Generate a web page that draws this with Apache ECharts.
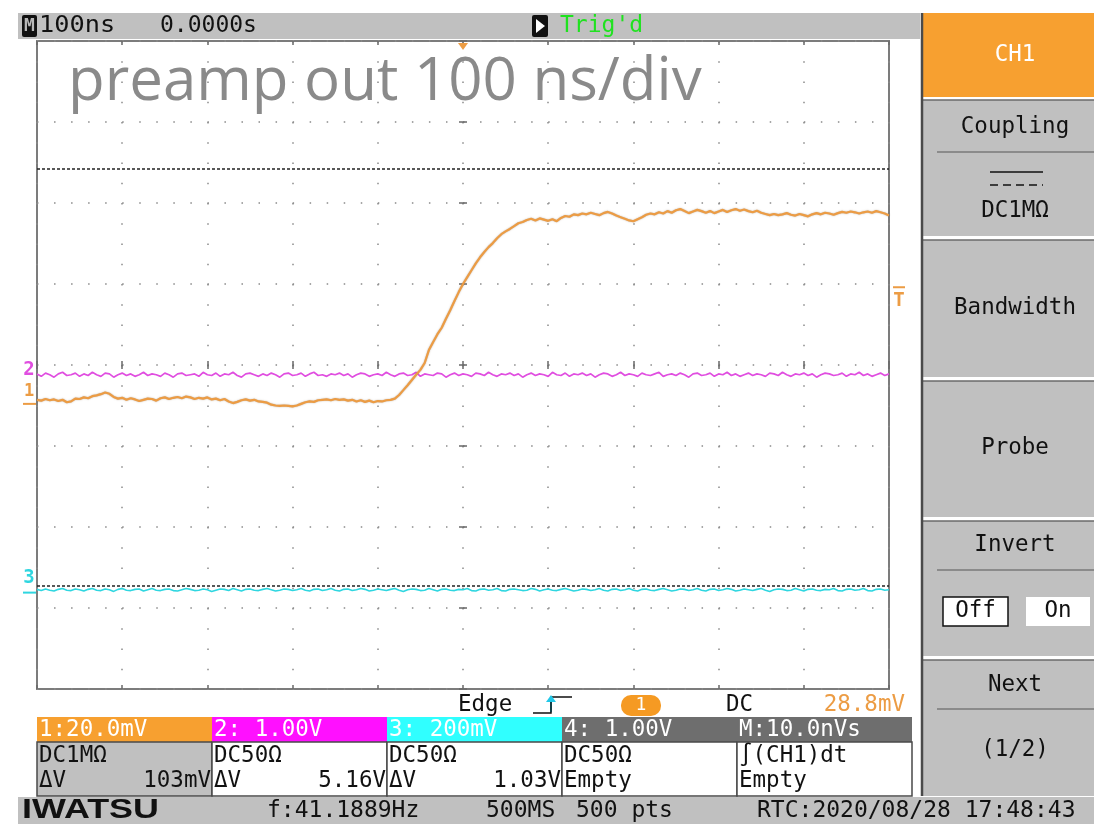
<!DOCTYPE html>
<html>
<head>
<meta charset="utf-8">
<script src="https://cdn.jsdelivr.net/npm/echarts@6/dist/echarts.min.js"></script>
<style>
  html, body { margin: 0; padding: 0; background: #ffffff; }
  #main { width: 1094px; height: 824px; }
</style>
</head>
<body>
<div id="main"></div>
<script>
// ---- acquisition record: 5 ns per sample, trigger at t = 0 ----
const timeStartNs = -500;
const timeStepNs = 5;

// CH1, preamp output (mV)
const ch1mV = [
  1.0, 0.8, 1.2, 0.9, 1.1, 0.7, 1.0, 0.4, 0.6, 1.3,
  1.2, 1.6, 1.4, 1.9, 2.1, 2.4, 2.8, 2.5, 1.7, 1.3,
  1.5, 1.0, 1.4, 1.1, 0.7, 1.0, 1.3, 1.2, 0.8, 1.4,
  1.6, 1.2, 1.5, 1.7, 1.4, 1.8, 1.6, 1.2, 1.5, 1.3,
  1.6, 1.1, 1.3, 0.9, 1.2, 0.6, 0.2, 0.5, 0.9, 1.1,
  0.8, 1.0, 0.6, 0.5, 0.3, -0.2, -0.4, -0.5, -0.4, -0.5,
  -0.6, -0.4, 0.0, 0.4, 0.6, 0.5, 0.9, 1.0, 1.1, 0.9,
  1.2, 1.0, 1.1, 0.8, 1.0, 0.6, 0.9, 0.5, 0.8, 0.4,
  0.7, 0.6, 0.9, 1.0, 1.3, 2.2, 3.4, 4.6, 5.9, 7.2,
  8.4, 10.1, 13.3, 15.3, 17.2, 18.8, 21.0, 23.1, 25.4, 27.6,
  29.6,
  31.3, 33.0, 34.7, 36.2, 37.5, 38.7, 39.7, 40.9, 41.9, 42.6,
  43.2, 43.9, 44.6, 44.9, 45.4, 45.7, 45.3, 45.8, 45.5, 45.2,
  45.6, 45.1, 45.9, 46.4, 46.2, 46.8, 46.6, 47.0, 46.8, 47.2,
  46.9, 46.6, 47.1, 47.4, 47.0, 46.5, 46.1, 45.7, 45.3, 45.1,
  45.6, 46.1, 46.7, 47.0, 46.8, 47.3, 47.0, 47.6, 47.2, 47.8,
  48.1, 47.6, 47.1, 47.5, 47.9, 47.6, 47.2, 47.6, 47.1, 47.5,
  47.9, 47.4, 47.8, 48.1, 47.7, 48.0, 47.6, 47.3, 47.7, 47.2,
  46.9, 46.6, 46.9, 46.6, 46.8, 47.1, 46.7, 46.5, 46.9, 46.6,
  46.3, 46.8, 47.1, 46.8, 47.2, 47.0, 46.7, 47.1, 47.4, 47.2,
  47.5, 47.3, 47.0, 47.3, 47.5, 47.2, 47.6, 47.3, 47.0, 46.5
];

// CH2 (V)
const ch2V = [
  0.01, -0.02, 0.02, 0.00, -0.03, 0.01, 0.03, -0.01, 0.00, 0.02,
  -0.02, 0.01, -0.01, 0.03, 0.00, -0.02, 0.02, 0.01, -0.03, 0.00,
  0.02, -0.01, 0.01, -0.02, 0.00, 0.03, -0.01, 0.01, 0.00, -0.02,
  0.02, 0.00, -0.03, 0.01, 0.02, -0.01, 0.00, 0.01, -0.02, 0.03,
  0.00, -0.01, 0.02, -0.02, 0.01, 0.00, 0.03, -0.01, -0.03, 0.01,
  0.02, 0.00, -0.02, 0.01, -0.01, 0.02, 0.00, -0.03, 0.01, 0.02,
  -0.01, 0.00, 0.02, -0.02, 0.01, 0.03, -0.01, 0.00, -0.02, 0.01,
  0.00, 0.02, -0.01, 0.01, -0.03, 0.00, 0.02, 0.01, -0.02, 0.00,
  0.01, -0.01, 0.03, 0.00, -0.02, 0.01, 0.02, -0.01, 0.00, 0.03,
  -0.02, 0.01, 0.00, -0.01, 0.02, 0.01, -0.03, 0.00, 0.02, -0.01,
  0.01,
  0.00, -0.02, 0.02, 0.01, -0.01, 0.03, 0.00, -0.02, 0.01, 0.00,
  0.02, -0.01, 0.01, -0.03, 0.00, 0.02, -0.01, 0.01, 0.00, -0.02,
  0.03, 0.00, -0.01, 0.02, -0.02, 0.01, 0.00, 0.02, -0.01, 0.01,
  -0.03, 0.00, 0.02, 0.01, -0.02, 0.00, 0.03, -0.01, 0.01, 0.00,
  -0.02, 0.02, 0.00, -0.01, 0.01, 0.03, -0.02, 0.00, 0.01, -0.01,
  0.02, 0.00, -0.03, 0.01, 0.02, -0.01, 0.00, 0.02, -0.02, 0.01,
  0.00, 0.03, -0.01, 0.01, -0.02, 0.00, 0.02, -0.01, 0.01, 0.00,
  -0.02, 0.02, 0.01, -0.01, 0.03, 0.00, -0.02, 0.01, 0.00, 0.02,
  -0.01, 0.01, -0.03, 0.00, 0.02, 0.01, -0.01, 0.00, 0.02, -0.02,
  0.01, 0.00, 0.03, -0.01, 0.01, -0.02, 0.00, 0.02, -0.01, 0.01
];

// CH3 (mV)
const ch3mV = [
  8, 5, 9, 6, 4, 8, 10, 6, 5, 9,
  7, 4, 8, 10, 6, 5, 9, 7, 3, 8,
  10, 6, 5, 8, 9, 4, 7, 10, 6, 5,
  8, 9, 5, 4, 7, 10, 8, 5, 6, 9,
  7, 3, 6, 9, 8, 5, 10, 7, 4, 8,
  9, 6, 5, 8, 10, 7, 4, 6, 9, 8,
  5, 7, 10, 6, 4, 8, 9, 5, 7, 10,
  6, 4, 8, 9, 5, 7, 10, 8, 4, 6,
  9, 7, 5, 8, 10, 6, 3, 7, 9, 8,
  5, 6, 10, 7, 4, 8, 9, 6, 5, 8,
  7,
  10, 5, 4, 8, 9, 6, 7, 10, 5, 4,
  8, 9, 7, 5, 6, 10, 8, 4, 7, 9,
  6, 5, 8, 10, 7, 4, 6, 9, 8, 5,
  7, 10, 6, 4, 8, 9, 5, 7, 10, 6,
  4, 8, 9, 6, 5, 8, 10, 7, 4, 6,
  9, 8, 5, 7, 10, 6, 4, 8, 9, 5,
  7, 10, 8, 4, 6, 9, 7, 5, 8, 10,
  6, 3, 7, 9, 8, 5, 6, 10, 7, 4,
  8, 9, 6, 5, 8, 7, 10, 5, 4, 8,
  9, 6, 7, 10, 5, 4, 8, 9, 6, 7
];

// vertical settings: units per division and ground position (divisions from centre)
const ch1Scale = 20, ch1Pos = -0.48;    // 20.0 mV/div
const ch2Scale = 1, ch2Pos = -0.12;     // 1.00 V/div
const ch3Scale = 200, ch3Pos = -2.81;   // 200 mV/div

// trigger level and ΔV cursors on CH1 (mV)
const triggerLevelmV = 28.8;
const cursorsmV = [58.0, -45.0];

const colCh1 = '#ec9c44', colCh2 = '#e04ee0', colCh3 = '#2fd6e0';
const MONO = '"DejaVu Sans Mono", monospace';
const UI = '22.5px ' + MONO;

function toDivs(values, scale, pos) {
  return values.map((v, i) => [timeStartNs + i * timeStepNs, v / scale + pos]);
}

const chart = echarts.init(document.getElementById('main'), null, { renderer: 'canvas' });

const dotColor = '#8a8a8a';
const tickStyle = { color: '#6a6a6a', width: 1.5 };
const hidden = { show: false };

// extra axes carry only tick marks: centre cross-hair and graticule frame
function tickAxisX(pos, onZero, inside) {
  return {
    type: 'value', min: -500, max: 500, interval: 100, position: pos,
    axisLine: { show: true, onZero: onZero, lineStyle: { color: 'rgba(0,0,0,0)' } },
    axisTick: { show: true, inside: inside, length: 4, lineStyle: tickStyle },
    axisLabel: hidden, splitLine: hidden
  };
}
function tickAxisY(pos, onZero, inside) {
  return {
    type: 'value', min: -4, max: 4, interval: 1, position: pos,
    axisLine: { show: true, onZero: onZero, lineStyle: { color: 'rgba(0,0,0,0)' } },
    axisTick: { show: true, inside: inside, length: 4, lineStyle: tickStyle },
    axisLabel: hidden, splitLine: hidden
  };
}

const option = {
  animation: false,
  backgroundColor: '#ffffff',
  grid: {
    left: 37, top: 41, width: 852, height: 648,
    show: true, borderColor: '#7c7c7c', borderWidth: 2, backgroundColor: '#ffffff'
  },
  xAxis: [
    {
      type: 'value', min: -500, max: 500, interval: 100,
      axisLine: { show: false, onZero: false }, axisTick: hidden, axisLabel: hidden,
      splitLine: { show: true, lineStyle: { color: dotColor, width: 1.5, type: [1.5, 18.75] } }
    },
    tickAxisX('bottom', true, false),
    tickAxisX('top', true, false),
    tickAxisX('bottom', false, true),
    tickAxisX('top', false, true)
  ],
  yAxis: [
    {
      type: 'value', min: -4, max: 4, interval: 1,
      axisLine: { show: false, onZero: false }, axisTick: hidden, axisLabel: hidden,
      splitLine: { show: true, lineStyle: { color: dotColor, width: 1.5, type: [1.5, 15.54] } }
    },
    tickAxisY('left', true, false),
    tickAxisY('right', true, false)
  ],
  series: [
    {
      name: 'CH3', type: 'line', showSymbol: false, silent: true,
      data: toDivs(ch3mV, ch3Scale, ch3Pos),
      lineStyle: { color: colCh3, width: 1.6 }, z: 3
    },
    {
      name: 'CH2', type: 'line', showSymbol: false, silent: true,
      data: toDivs(ch2V, ch2Scale, ch2Pos),
      lineStyle: { color: colCh2, width: 1.7 }, z: 3
    },
    {
      name: 'CH1', type: 'line', showSymbol: false, silent: true,
      data: toDivs(ch1mV, ch1Scale, ch1Pos),
      lineStyle: { color: colCh1, width: 2.2, shadowColor: 'rgba(120,90,60,0.5)', shadowBlur: 1.5 }, z: 4
    },
    {
      name: 'cursors', type: 'line', data: [], z: 5,
      markLine: {
        silent: true, symbol: 'none', label: hidden, animation: false,
        lineStyle: { color: '#222', width: 1.5, type: [3, 2] },
        data: cursorsmV.map(v => ({ yAxis: v / ch1Scale + ch1Pos }))
      }
    }
  ]
};
chart.setOption(option);

// ---- screen furniture around the graticule ----
function txt(x, y, text, o) {
  o = o || {};
  return {
    type: 'text', z: o.z || 20, scaleX: o.sx || 1, scaleY: 1, originX: x, originY: y,
    style: {
      x: x, y: y, text: text,
      fill: o.fill || '#111',
      font: o.font || UI,
      align: o.align || 'left', textAlign: o.align || 'left',
      verticalAlign: 'middle', textVerticalAlign: 'middle'
    }
  };
}
function rect(x, y, w, h, fill, o) {
  o = o || {};
  return {
    type: 'rect', z: o.z || 10,
    shape: { x: x, y: y, width: w, height: h, r: o.r || 0 },
    style: { fill: fill, stroke: o.stroke || null, lineWidth: o.lw || 0 }
  };
}
function line(x1, y1, x2, y2, stroke, w, dash) {
  return {
    type: 'line', z: 15,
    shape: { x1: x1, y1: y1, x2: x2, y2: y2 },
    style: { stroke: stroke, lineWidth: w || 1.5, lineDash: dash || null }
  };
}

const px = (t, d) => chart.convertToPixel({ gridIndex: 0 }, [t, d]);
const g = [];

// header bar
g.push(rect(18, 13, 902, 26, '#c0c0c0'));
g.push(rect(22, 15, 15, 22, '#111', { r: 2 }));
g.push(txt(29.5, 26.5, 'M', { fill: '#b8b8b8', font: 'bold 18px ' + MONO, align: 'center' }));
g.push(txt(39, 26, '100ns', { font: '23px ' + MONO, sx: 1.1 }));
g.push(txt(160, 26, '0.0000s', { font: '23px ' + MONO }));
g.push(rect(532, 15, 16, 22, '#111', { r: 2 }));
g.push({ type: 'polygon', z: 20, shape: { points: [[536, 19], [545, 26], [536, 33]] }, style: { fill: '#ffffff' } });
g.push(txt(560, 26, "Trig'd", { fill: '#1fe21f', font: '23px ' + MONO }));

// trigger position marker
const tp = px(0, 4);
g.push({ type: 'polygon', z: 20, shape: { points: [[tp[0] - 5, 43], [tp[0] + 5, 43], [tp[0], 50]] }, style: { fill: colCh1 } });

// caption
g.push(txt(68, 83, 'preamp out 100 ns/div', { fill: '#8a8a8a', font: '60px "Open Sans"', z: 30 }));

// channel ground markers
const gy1 = px(0, ch1Pos)[1], gy2 = px(0, ch2Pos)[1], gy3 = px(0, ch3Pos)[1];
g.push(txt(29, gy2 - 5, '2', { fill: colCh2, font: 'bold 19px ' + MONO, align: 'center' }));
g.push(txt(29, gy1 - 12, '1', { fill: colCh1, font: 'bold 17px ' + MONO, align: 'center' }));
g.push(line(23, gy1, 36, gy1, colCh1, 2));
g.push(txt(29, gy3 - 15, '3', { fill: colCh3, font: 'bold 19px ' + MONO, align: 'center' }));
g.push(line(23, gy3, 36, gy3, colCh3, 2));

// trigger level marker
const ty = px(0, triggerLevelmV / ch1Scale + ch1Pos)[1];
g.push(line(893, ty, 905, ty, colCh1, 2));
g.push(txt(899, ty + 14, 'T', { fill: colCh1, font: 'bold 19px ' + MONO, align: 'center' }));

// trigger settings line
g.push(txt(458, 705, 'Edge'));
g.push({ type: 'polyline', z: 20, shape: { points: [[533, 713], [551, 713], [551, 697], [572, 697]] }, style: { stroke: '#111', lineWidth: 1.5, fill: null } });
g.push(line(551, 712, 551, 700, '#22c8e8', 2));
g.push({ type: 'polygon', z: 20, shape: { points: [[546, 702], [556, 702], [551, 695]] }, style: { fill: '#22c8e8' } });
g.push(rect(621, 695, 40, 21, '#f59a23', { r: 10 }));
g.push(txt(641, 705.5, '1', { fill: '#ffffff', font: '18px ' + MONO, align: 'center' }));
g.push(txt(726, 705, 'DC'));
g.push(txt(905, 705, '28.8mV', { fill: colCh1, align: 'right' }));

// channel status table
const boxX = [37, 212, 387, 562, 737];
const boxW = 175;
const headFill = ['#f7a030', '#ff10ff', '#30ffff', '#6e6e6e', '#6e6e6e'];
const headText = ['1:20.0mV', '2: 1.00V', '3: 200mV', '4: 1.00V', 'M:10.0nVs'];
const row2 = ['DC1M\u03a9', 'DC50\u03a9', 'DC50\u03a9', 'DC50\u03a9', '\u222b(CH1)dt'];
const row3L = ['\u0394V', '\u0394V', '\u0394V', 'Empty', 'Empty'];
const row3R = ['103mV', '5.16V', '1.03V', '', ''];
boxX.forEach((x, i) => {
  g.push(rect(x, 717, boxW, 25, headFill[i]));
  g.push(txt(x + 2, 730, headText[i], { fill: '#ffffff' }));
  g.push(rect(x, 742, boxW, 54, i === 0 ? '#c0c0c0' : '#ffffff', { stroke: '#4a4a4a', lw: 1.5 }));
  g.push(txt(x + 2, 756, row2[i]));
  g.push(txt(x + 2, 781, row3L[i]));
  if (row3R[i]) g.push(txt(x + boxW - 1, 781, row3R[i], { align: 'right' }));
});

// footer bar
g.push(rect(18, 797, 1076, 27, '#c0c0c0'));
g.push(txt(22, 811, 'IWATSU', { font: '900 27px "Liberation Sans"', sx: 1.33 }));
g.push(txt(267, 811, 'f:41.1889Hz', { font: '23px ' + MONO }));
g.push(txt(486, 811, '500MS', { font: '23px ' + MONO }));
g.push(txt(576, 811, '500 pts', { font: '23px ' + MONO }));
g.push(txt(757, 811, 'RTC:2020/08/28 17:48:43', { font: '23px ' + MONO }));

// soft-key menu
const menuX = 923, menuW = 171, cx = 1015;
g.push(rect(menuX, 13, menuW, 84, '#f7a030'));
g.push(txt(cx, 55, 'CH1', { fill: '#ffffff', align: 'center' }));
const keys = [[100, 136], [240, 137], [381, 136], [521, 135], [660, 136]];
keys.forEach(k => {
  g.push(rect(menuX, k[0], menuW, k[1], '#c0c0c0'));
  g.push(line(menuX, k[0], menuX + menuW, k[0], '#6a6a6a', 1.5));
});
g.push(line(922, 13, 922, 796, '#4a4a4a', 2.5));
// Coupling
g.push(txt(cx, 127, 'Coupling', { align: 'center' }));
g.push(line(937, 152, 1094, 152, '#7a7a7a', 1.5));
g.push(line(990, 172, 1043, 172, '#111', 1.5));
g.push(line(990, 185, 1043, 185, '#111', 1.5, [8, 5]));
g.push(txt(cx, 211, 'DC1M\u03a9', { align: 'center' }));
// Bandwidth, Probe
g.push(txt(cx, 308, 'Bandwidth', { align: 'center' }));
g.push(txt(cx, 448, 'Probe', { align: 'center' }));
// Invert
g.push(txt(cx, 545, 'Invert', { align: 'center' }));
g.push(line(937, 570, 1094, 570, '#7a7a7a', 1.5));
g.push(rect(943, 597, 65, 29, '#ffffff', { stroke: '#111', lw: 1.5 }));
g.push(txt(975.5, 611.5, 'Off', { align: 'center' }));
g.push(rect(1026, 597, 64, 29, '#ffffff'));
g.push(txt(1058, 611.5, 'On', { align: 'center' }));
// Next
g.push(txt(cx, 685, 'Next', { align: 'center' }));
g.push(line(937, 709, 1094, 709, '#7a7a7a', 1.5));
g.push(txt(cx, 750, '(1/2)', { align: 'center' }));

chart.setOption({ graphic: { elements: g } });
</script>
</body>
</html>
